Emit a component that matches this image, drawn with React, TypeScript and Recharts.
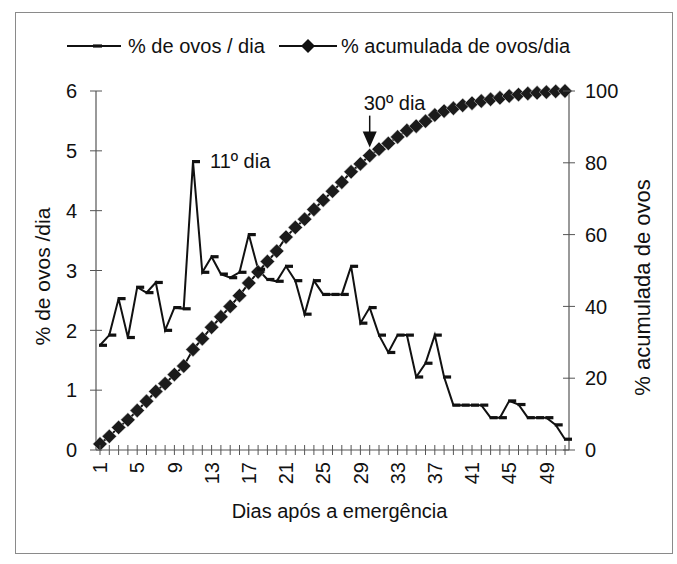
import React from 'react';
import { LineChart, Line, XAxis, YAxis, ReferenceDot, Label } from 'recharts';

const days = [
  1, 2, 3, 4, 5, 6, 7, 8, 9, 10, 11, 12, 13, 14, 15, 16, 17, 18, 19, 20, 21, 22, 23, 24, 25, 26,
  27, 28, 29, 30, 31, 32, 33, 34, 35, 36, 37, 38, 39, 40, 41, 42, 43, 44, 45, 46, 47, 48, 49, 50, 51,
];

const dailyPct = [
  1.75, 1.92, 2.53, 1.88, 2.72, 2.63, 2.8, 2.0, 2.38, 2.36,
  4.82, 2.97, 3.23, 2.94, 2.88, 2.97, 3.6, 3.02, 2.85, 2.82,
  3.07, 2.83, 2.27, 2.83, 2.6, 2.6, 2.6, 3.07, 2.12, 2.38,
  1.92, 1.63, 1.92, 1.92, 1.22, 1.45, 1.92, 1.22, 0.75, 0.75,
  0.75, 0.75, 0.54, 0.54, 0.82, 0.76, 0.54, 0.54, 0.54, 0.42, 0.18,
];

const cumulativePct = [
  1.7, 3.8, 6.3, 8.4, 11.0, 13.6, 16.3, 18.5, 21.0, 23.4,
  28.0, 31.0, 34.2, 37.1, 40.0, 43.0, 46.5, 49.6, 52.5, 55.4,
  59.3, 62.0, 64.3, 67.0, 69.6, 72.1, 74.6, 77.5, 79.7, 82.0,
  83.8, 85.4, 87.2, 89.0, 90.2, 91.6, 93.3, 94.4, 95.2, 96.0,
  96.6, 97.2, 97.7, 98.1, 98.6, 99.0, 99.3, 99.5, 99.7, 99.9, 100,
];

const xLabelDays = [1, 5, 9, 13, 17, 21, 25, 29, 33, 37, 41, 45, 49];
const leftTicks = [0, 1, 2, 3, 4, 5, 6];
const rightTicks = [0, 20, 40, 60, 80, 100];
const seriesNames = ['% de ovos / dia', '% acumulada de ovos/dia'];
const xTitle = 'Dias após a emergência';
const leftTitle = '% de ovos /dia';
const rightTitle = '% acumulada de ovos';
const noteDay1 = 11;
const noteText1 = '11º dia';
const noteDay2 = 30;
const noteText2 = '30º dia';

const data = days.map((d, i) => ({ day: d, daily: dailyPct[i], cum: cumulativePct[i] }));

const FONT = '"Liberation Sans", Arial, sans-serif';
const AXIS = '#555';
const INK = '#111';

const XTick = (props: any) => {
  const { x, y, payload } = props;
  const show = xLabelDays.includes(payload.value);
  const ty = y + 12;
  return (
    <g>
      <line x1={x} x2={x} y1={y - 5} y2={y + 5} stroke={AXIS} strokeWidth={1} />
      {show && (
        <text
          x={x}
          y={ty}
          transform={`rotate(-90 ${x} ${ty})`}
          textAnchor="end"
          dy="0.36em"
          fontSize={20}
          fontFamily={FONT}
          fill={INK}
        >
          {payload.value}
        </text>
      )}
    </g>
  );
};

const LeftTick = (props: any) => {
  const { x, y, payload } = props;
  return (
    <g>
      <line x1={x - 6} x2={x + 6} y1={y} y2={y} stroke={AXIS} strokeWidth={1} />
      <text x={x - 19} y={y} dy="0.36em" textAnchor="end" fontSize={20} fontFamily={FONT} fill={INK}>
        {payload.value}
      </text>
    </g>
  );
};

const RightTick = (props: any) => {
  const { x, y, payload } = props;
  return (
    <g>
      <line x1={x - 6} x2={x + 6} y1={y} y2={y} stroke={AXIS} strokeWidth={1} />
      <text x={x + 16} y={y} dy="0.36em" textAnchor="start" fontSize={20} fontFamily={FONT} fill={INK}>
        {payload.value}
      </text>
    </g>
  );
};

const DailyDot = (props: any) => {
  const { cx, cy, index } = props;
  if (cx == null || cy == null) return <g key={`dd-${index}`} />;
  return <rect key={`dd-${index}`} x={cx - 1} y={cy - 1.6} width={8} height={3.2} fill={INK} />;
};

const diamond = (cx: number, cy: number, r: number) =>
  `M${cx},${cy - r} L${cx + r},${cy} L${cx},${cy + r} L${cx - r},${cy} Z`;

const CumDot = (props: any) => {
  const { cx, cy, index } = props;
  if (cx == null || cy == null) return <g key={`cd-${index}`} />;
  return <path key={`cd-${index}`} d={diamond(cx, cy, 7.2)} fill="#1b1b1b" stroke="#d8d8d8" strokeWidth={0.5} />;
};

const Note11 = (props: any) => {
  const { cx, cy } = props;
  return (
    <text x={cx + 17} y={cy + 6} fontSize={20} fontFamily={FONT} fill={INK}>
      {noteText1}
    </text>
  );
};

const Note30 = (props: any) => {
  const { cx, cy } = props;
  const tip = cy - 8;
  return (
    <g>
      <text x={cx - 6} y={cy - 46} fontSize={20} fontFamily={FONT} fill={INK}>
        {noteText2}
      </text>
      <line x1={cx} x2={cx} y1={cy - 40} y2={tip - 14} stroke={INK} strokeWidth={1.5} />
      <path d={`M${cx - 7},${tip - 16} L${cx + 7},${tip - 16} L${cx},${tip} Z`} fill={INK} />
    </g>
  );
};

const LeftTitle = (props: any) => {
  const { viewBox } = props;
  const cx = viewBox.x + 42;
  const cy = viewBox.y + viewBox.height / 2 + 6;
  return (
    <text x={cx} y={cy} transform={`rotate(-90 ${cx} ${cy})`} textAnchor="middle" dy="0.36em" fontSize={21} fontFamily={FONT} fill={INK}>
      {leftTitle}
    </text>
  );
};

const RightTitle = (props: any) => {
  const { viewBox } = props;
  const cx = viewBox.x + 73;
  const cy = viewBox.y + viewBox.height / 2 + 17;
  return (
    <text x={cx} y={cy} transform={`rotate(-90 ${cx} ${cy})`} textAnchor="middle" dy="0.36em" fontSize={22} fontFamily={FONT} fill={INK}>
      {rightTitle}
    </text>
  );
};

const XTitle = (props: any) => {
  const { viewBox } = props;
  const cx = viewBox.x + viewBox.width / 2 + 7;
  return (
    <text x={cx} y={viewBox.y + 68} textAnchor="middle" fontSize={20} fontFamily={FONT} fill={INK}>
      {xTitle}
    </text>
  );
};

export default function App() {
  const cum30 = cumulativePct[days.indexOf(noteDay2)];
  const d11 = dailyPct[days.indexOf(noteDay1)];
  return (
    <div style={{ position: 'absolute', left: 0, top: 0, width: 677, height: 564, background: '#fff' }}>
      <LineChart
        width={677}
        height={564}
        data={data}
        margin={{ top: 91, right: 28, bottom: 54, left: 0 }}
      >
        <XAxis
          dataKey="day"
          xAxisId={0}
          interval={0}
          tickSize={0}
          tickMargin={0}
          tickLine={false}
          tick={<XTick />}
          height={60}
          padding={{ left: 4, right: 4 }}
          stroke={AXIS}
          strokeWidth={1.2}
        >
          <Label content={<XTitle />} />
        </XAxis>
        <YAxis
          yAxisId="left"
          orientation="left"
          width={96}
          domain={[0, 6]}
          ticks={leftTicks}
          interval={0}
          tickSize={0}
          tickMargin={0}
          tickLine={false}
          tick={<LeftTick />}
          stroke={AXIS}
          strokeWidth={1.2}
        >
          <Label content={<LeftTitle />} />
        </YAxis>
        <YAxis
          yAxisId="right"
          orientation="right"
          width={80}
          domain={[0, 100]}
          ticks={rightTicks}
          interval={0}
          tickSize={0}
          tickMargin={0}
          tickLine={false}
          tick={<RightTick />}
          stroke={AXIS}
          strokeWidth={1.2}
        >
          <Label content={<RightTitle />} />
        </YAxis>
        <Line
          yAxisId="right"
          dataKey="cum"
          name={seriesNames[1]}
          stroke={INK}
          strokeWidth={2}
          dot={<CumDot />}
          isAnimationActive={false}
        />
        <Line
          yAxisId="left"
          dataKey="daily"
          name={seriesNames[0]}
          type="linear"
          stroke={INK}
          strokeWidth={2}
          dot={<DailyDot />}
          isAnimationActive={false}
        />
        <ReferenceDot x={noteDay1} y={d11} yAxisId="left" r={0} shape={<Note11 />} />
        <ReferenceDot x={noteDay2} y={cum30} yAxisId="right" r={0} shape={<Note30 />} />
      </LineChart>
      <svg
        width={677}
        height={564}
        style={{ position: 'absolute', left: 0, top: 0, pointerEvents: 'none' }}
      >
        <rect x={15.5} y={12.5} width={657} height={541} fill="none" stroke="#8a8a8a" strokeWidth={1} />
        <line x1={67} x2={121} y1={46} y2={46} stroke={INK} strokeWidth={2} />
        <rect x={93} y={44.4} width={9} height={3.2} fill={INK} />
        <text x={128} y={46} dy="0.36em" fontSize={20} fontFamily={FONT} fill={INK}>
          {seriesNames[0]}
        </text>
        <line x1={279} x2={337} y1={46} y2={46} stroke={INK} strokeWidth={2} />
        <path d={diamond(308, 46, 7)} fill={INK} />
        <text x={341} y={46} dy="0.36em" fontSize={20} fontFamily={FONT} fill={INK}>
          {seriesNames[1]}
        </text>
      </svg>
    </div>
  );
}
